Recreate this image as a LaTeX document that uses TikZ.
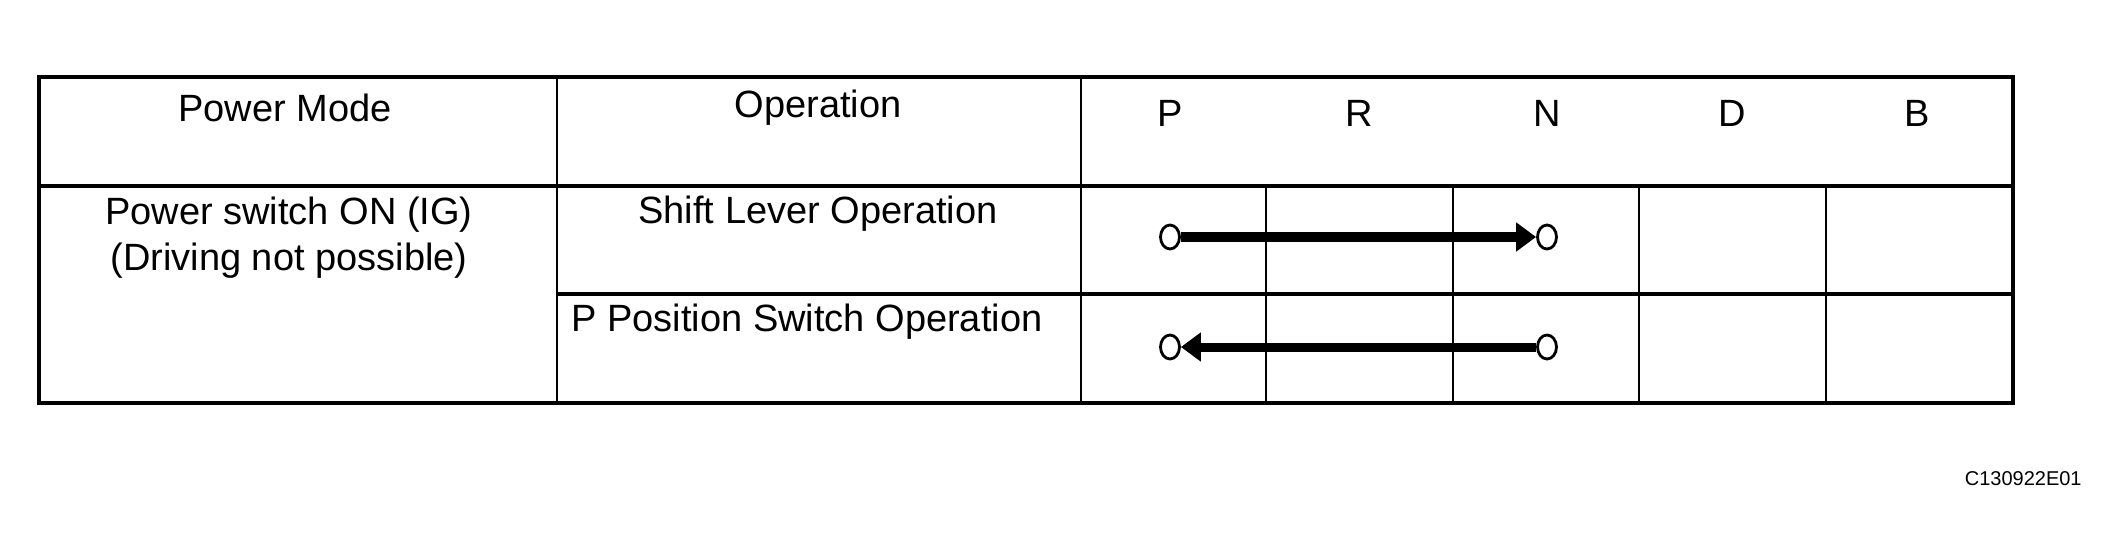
\documentclass[tikz,border=0pt]{standalone}
\usepackage{fontspec}
\setmainfont{Liberation Sans}
\usetikzlibrary{arrows.meta,shapes.geometric}
\begin{document}
\begin{tikzpicture}[x=0.5pt,y=-0.5pt,
  frameline/.style={line width=2pt},
  gridline/.style={line width=1.2pt},
  txt/.style={font=\fontsize{19}{23}\selectfont,inner sep=0},
  dot/.style={ellipse,draw,line width=1.4pt,minimum width=9.5pt,minimum height=12pt,inner sep=0,fill=white},
  shiftarrow/.style={line width=4.5pt,-{Triangle[length=10pt,width=14pt]}}]
\useasboundingbox (0,0) rectangle (2117,556);
% grid
\draw[gridline] (557,77) -- (557,403);
\draw[gridline] (1081,77) -- (1081,403);
\foreach \x in {1266,1453,1639,1826} \draw[gridline] (\x,186) -- (\x,403);
\draw[frameline] (39,186) -- (2013,186);
\draw[frameline] (557,294) -- (2013,294);
\draw[frameline] (39,77) rectangle (2013,403);
% headers
\node[txt] (hpm) at (285,108) {Power Mode};
\node[txt] (hop) at (818,108) {Operation};
\node[txt] (hp) at (1170,113) {P};
\node[txt] (hr) at (1359,113) {R};
\node[txt] (hn) at (1547,113) {N};
\node[txt] (hd) at (1732,113) {D};
\node[txt] (hb) at (1917,113) {B};
\node[txt,align=center] (pm) at (289,238) {Power switch ON (IG)\\(Driving not possible)};
\node[txt] (sl) at (818,214) {Shift Lever Operation};
\node[txt,anchor=west] (pp) at (571,322) {P Position Switch Operation};
% arrows
\node[dot] (a1) at (1170,237) {};
\node[dot] (b1) at (1547,237) {};
\node[dot] (a2) at (1170,347) {};
\node[dot] (b2) at (1547,347) {};
\draw[shiftarrow] (a1) -- (b1);
\draw[shiftarrow] (b2) -- (a2);
\node[font=\fontsize{10}{12}\selectfont,anchor=east,inner sep=0] (id) at (2082,479) {C130922E01};
\end{tikzpicture}
\end{document}
